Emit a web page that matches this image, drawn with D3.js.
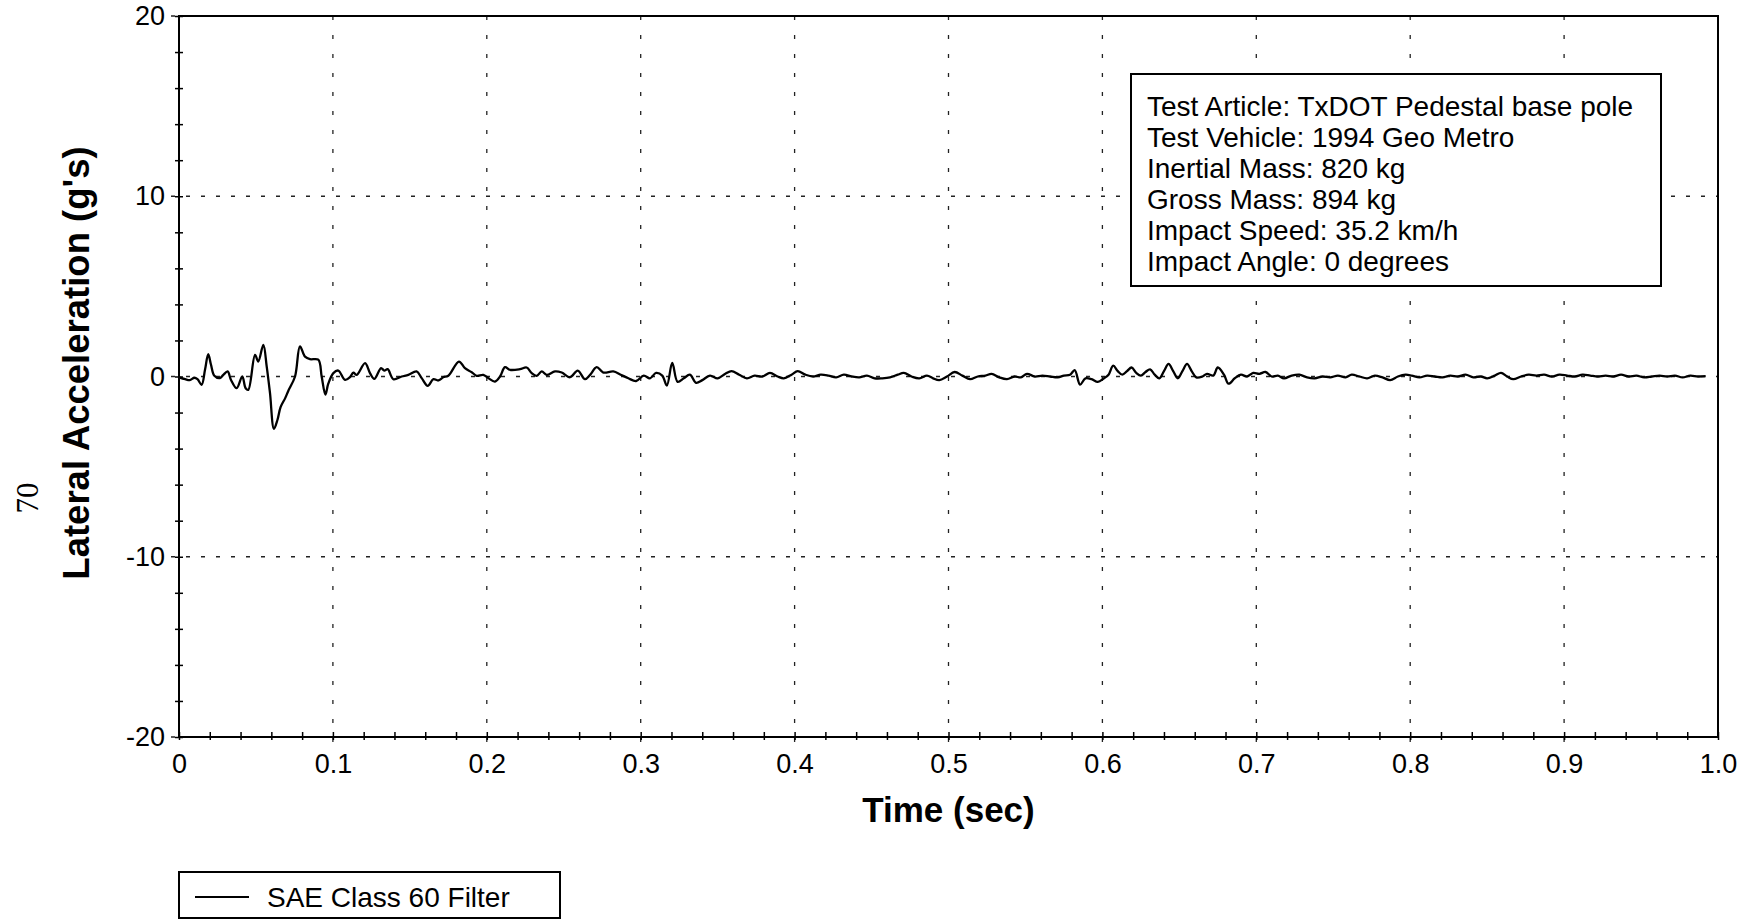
<!DOCTYPE html>
<html>
<head>
<meta charset="utf-8">
<script src="https://cdn.jsdelivr.net/npm/d3@7"></script>
<style>
  body { margin: 0; background: #fff; }
  text { font-family: "Liberation Sans", Arial, sans-serif; }
</style>
</head>
<body>
<div class="chart"></div>
<script>
// time (sec) and lateral acceleration (g's)
var tiempo = [0, 0.004, 0.007, 0.010, 0.012, 0.0147, 0.0169, 0.019, 0.0208, 0.023, 0.0266, 0.0288, 0.0316, 0.0338, 0.0375, 0.0411, 0.0433, 0.045, 0.0494, 0.0515, 0.0548, 0.057, 0.0591, 0.0617, 0.064, 0.066, 0.069, 0.071, 0.0754, 0.0786, 0.0819, 0.0851, 0.0905, 0.0927, 0.0951, 0.097, 0.1003, 0.1035, 0.1079, 0.1111, 0.1133, 0.1155, 0.1209, 0.1241, 0.1269, 0.1313, 0.1334, 0.1356, 0.1393, 0.1447, 0.149, 0.1544, 0.1577, 0.1616, 0.1653, 0.1685, 0.1717, 0.175, 0.1819, 0.1858, 0.1902, 0.1934, 0.1977, 0.201, 0.2053, 0.2086, 0.2118, 0.2151, 0.2216, 0.2259, 0.2292, 0.2324, 0.2357, 0.2389, 0.2443, 0.2487, 0.2541, 0.2591, 0.2638, 0.2671, 0.2714, 0.2757, 0.2822,
  0.287, 0.292, 0.297, 0.302, 0.306, 0.310, 0.314, 0.317, 0.3205, 0.324, 0.328, 0.332, 0.336, 0.340, 0.345, 0.350, 0.355, 0.359, 0.364, 0.369, 0.374, 0.379, 0.384, 0.389, 0.393, 0.398, 0.402, 0.407, 0.412, 0.417, 0.422, 0.427, 0.432, 0.437, 0.442, 0.447, 0.452, 0.457, 0.462, 0.467, 0.471, 0.476, 0.481, 0.486, 0.490, 0.494, 0.499, 0.504, 0.509, 0.514, 0.519, 0.524, 0.528, 0.533, 0.538, 0.543, 0.547, 0.551, 0.556, 0.561, 0.566, 0.571, 0.575, 0.579, 0.582, 0.5855, 0.589, 0.593, 0.597, 0.601, 0.604, 0.607, 0.610, 0.613, 0.616, 0.619, 0.622, 0.625, 0.628, 0.631, 0.634, 0.637, 0.640, 0.643, 0.646, 0.649, 0.652, 0.655, 0.658, 0.661, 0.665, 0.668, 0.672, 0.675, 0.679, 0.682, 0.686, 0.690, 0.694, 0.698, 0.702, 0.706, 0.710, 0.714, 0.718, 0.723, 0.728, 0.733, 0.738, 0.743, 0.748, 0.753, 0.758, 0.762, 0.767, 0.772, 0.777, 0.782, 0.787, 0.792, 0.797, 0.801, 0.806, 0.811, 0.816, 0.821, 0.826, 0.831, 0.836, 0.841, 0.846, 0.850, 0.855, 0.859, 0.863, 0.867, 0.872, 0.877, 0.882, 0.887, 0.892, 0.897, 0.902, 0.907, 0.912, 0.917, 0.922, 0.927, 0.932, 0.937, 0.942, 0.947, 0.952, 0.957, 0.962, 0.967, 0.972, 0.977, 0.982, 0.987, 0.992];

var aceleracion = [-0.05, -0.15, -0.2, -0.07, -0.15, -0.46, 0.37, 1.24, 0.65, 0.04, -0.09, 0.09, 0.28, -0.19, -0.65, 0.0, -0.65, -0.74, 1.2, 0.83, 1.76, 0.55, -0.9, -2.9, -2.4, -1.7, -1.2, -0.8, 0.0, 1.67, 1.1, 0.96, 0.93, 0.0, -1.0, -0.4, 0.19, 0.33, -0.19, -0.04, 0.22, 0.09, 0.74, 0.19, -0.13, 0.46, 0.33, 0.41, -0.15, 0.0, 0.09, 0.28, -0.09, -0.52, -0.15, -0.22, -0.04, 0.04, 0.83, 0.46, 0.24, 0.04, 0.09, -0.09, -0.28, 0.0, 0.52, 0.37, 0.41, 0.5, 0.19, 0.04, 0.28, 0.09, 0.28, 0.22, -0.04, 0.33, -0.15, 0.09, 0.52, 0.22, 0.28,
  0.1, -0.1, -0.25, 0.05, -0.1, 0.2, 0.05, -0.5, 0.75, -0.3, -0.1, 0.1, -0.35, -0.2, 0.05, -0.1, 0.15, 0.3, 0.1, -0.1, 0.05, 0.0, 0.2, 0.0, -0.1, 0.1, 0.3, 0.1, 0.0, 0.1, 0.05, -0.05, 0.1, 0.0, -0.05, 0.05, -0.1, -0.1, -0.05, 0.1, 0.2, 0.0, -0.1, 0.05, -0.1, -0.2, 0.0, 0.25, 0.05, -0.15, 0.0, 0.05, 0.15, -0.05, -0.15, 0.0, -0.05, 0.15, 0.0, 0.05, 0.0, -0.05, 0.05, 0.1, 0.35, -0.45, -0.1, -0.15, -0.3, -0.1, 0.1, 0.6, 0.3, 0.1, 0.3, 0.5, 0.2, 0.05, 0.25, 0.4, 0.1, -0.1, 0.3, 0.7, 0.3, -0.1, 0.3, 0.7, 0.3, -0.05, 0.0, 0.15, 0.05, 0.5, 0.1, -0.4, -0.1, 0.1, 0.0, 0.2, 0.15, 0.25, 0.0, 0.05, -0.1, 0.05, 0.1, -0.05, -0.1, 0.0, -0.05, 0.05, -0.05, 0.1, 0.0, -0.1, 0.05, -0.05, -0.2, 0.0, 0.1, 0.05, -0.05, 0.05, 0.0, -0.05, 0.05, 0.0, 0.1, -0.05, 0.0, -0.1, 0.05, 0.2, 0.0, -0.15, 0.0, 0.1, 0.05, 0.1, 0.0, 0.1, 0.05, 0.0, 0.1, 0.05, 0.0, 0.05, 0.0, 0.1, 0.0, 0.05, -0.05, 0.0, 0.05, 0.0, 0.05, -0.05, 0.05, 0.0, 0.02];

var ticks_x = [0, 0.1, 0.2, 0.3, 0.4, 0.5, 0.6, 0.7, 0.8, 0.9, 1.0];
var ticks_y = [-20, -10, 0, 10, 20];
var menores_x = d3.range(0, 101, 2).map(function (d) { return d / 100; });
var menores_y = d3.range(-20, 21, 2);

var info_lineas = [
  "Test Article: TxDOT Pedestal base pole",
  "Test Vehicle: 1994 Geo Metro",
  "Inertial Mass: 820 kg",
  "Gross Mass: 894 kg",
  "Impact Speed: 35.2 km/h",
  "Impact Angle: 0 degrees"
];
var leyenda = "SAE Class 60 Filter";

var datos = tiempo.map(function (t, i) { return { t: t, g: aceleracion[i] }; });

// dimensions
var margin = { top: 16, right: 32, bottom: 182, left: 179 },
  ancho = 1750, altura = 919,
  width = ancho - margin.left - margin.right,
  height = altura - margin.top - margin.bottom;

var svg = d3.select(".chart").append("svg")
  .attr("width", ancho)
  .attr("height", altura);

var g = svg.append("g")
  .attr("transform", "translate(" + margin.left + "," + margin.top + ")");

var x = d3.scaleLinear().domain([0, 1]).range([0, width]);
var y = d3.scaleLinear().domain([-20, 20]).range([height, 0]);

// dashed grid (extends a little past the axes like tick marks)
g.append("g")
  .selectAll("line")
  .data(ticks_x.slice(1, -1))
  .enter().append("line")
  .attr("x1", function (d) { return x(d); })
  .attr("x2", function (d) { return x(d); })
  .attr("y1", 0)
  .attr("y2", height + 8)
  .attr("stroke", "#222")
  .attr("stroke-width", 1.3)
  .style("stroke-dasharray", "4,15");

g.append("g")
  .selectAll("line")
  .data(ticks_y)
  .enter().append("line")
  .attr("x1", -8)
  .attr("x2", width)
  .attr("y1", function (d) { return y(d); })
  .attr("y2", function (d) { return y(d); })
  .attr("stroke", "#222")
  .attr("stroke-width", 1.3)
  .style("stroke-dasharray", "4,11");

// minor ticks crossing the axes
var ejeX = g.append("g")
  .attr("transform", "translate(0," + height + ")")
  .call(d3.axisBottom(x).tickValues(menores_x).tickSize(-5).tickFormat(""));
ejeX.select(".domain").remove();
ejeX.selectAll("line").attr("stroke", "#000").attr("stroke-width", 1.5).attr("y2", -5).attr("y1", 3);

var ejeY = g.append("g")
  .call(d3.axisLeft(y).tickValues(menores_y).tickSize(-4).tickFormat(""));
ejeY.select(".domain").remove();
ejeY.selectAll("line").attr("stroke", "#000").attr("stroke-width", 1.5).attr("x1", -4);

// tick labels
var etqX = g.append("g")
  .attr("transform", "translate(0," + height + ")")
  .call(d3.axisBottom(x).tickValues(ticks_x).tickSize(0).tickPadding(17)
    .tickFormat(function (d) { return d === 0 ? "0" : d3.format(".1f")(d); }));
etqX.select(".domain").remove();
etqX.selectAll("text").style("font-size", "27px").attr("fill", "#000")
  .style("font-family", "Liberation Sans, Arial, sans-serif");

var etqY = g.append("g")
  .call(d3.axisLeft(y).tickValues(ticks_y).tickSize(0).tickPadding(14)
    .tickFormat(function (d) { return String(d); }));
etqY.select(".domain").remove();
etqY.selectAll("text").style("font-size", "27px").attr("fill", "#000")
  .style("font-family", "Liberation Sans, Arial, sans-serif");

// frame
g.append("rect")
  .attr("x", 0).attr("y", 0)
  .attr("width", width).attr("height", height)
  .attr("fill", "none")
  .attr("stroke", "#000")
  .attr("stroke-width", 2);

// signal
var linea = d3.line()
  .x(function (d) { return x(d.t); })
  .y(function (d) { return y(d.g); })
  .curve(d3.curveCatmullRom.alpha(0.5));

g.append("path")
  .datum(datos)
  .attr("d", linea)
  .attr("fill", "none")
  .attr("stroke", "#000")
  .attr("stroke-width", 2.3);

// info box
var info = g.append("g").attr("transform", "translate(" + (1131 - margin.left) + "," + (74 - margin.top) + ")");
info.append("rect")
  .attr("width", 530).attr("height", 212)
  .attr("fill", "#fff").attr("stroke", "#000").attr("stroke-width", 2);
info.selectAll("text")
  .data(info_lineas)
  .enter().append("text")
  .attr("x", 16)
  .attr("y", function (d, i) { return 42 + i * 31; })
  .style("font-size", "28px")
  .text(function (d) { return d; });

// axis titles
svg.append("text")
  .attr("x", margin.left + width / 2)
  .attr("y", 822)
  .attr("text-anchor", "middle")
  .style("font-size", "35px")
  .style("font-weight", "bold")
  .text("Time (sec)");

svg.append("text")
  .attr("transform", "translate(89,363) rotate(-90)")
  .attr("text-anchor", "middle")
  .style("font-size", "36.5px")
  .style("font-weight", "bold")
  .text("Lateral Acceleration (g's)");

svg.append("text")
  .attr("transform", "translate(38,498) rotate(-90)")
  .attr("text-anchor", "middle")
  .style("font-family", "Liberation Serif, Times New Roman, serif")
  .style("font-size", "31px")
  .text("70");

// legend
var leg = svg.append("g").attr("transform", "translate(179,872)");
leg.append("rect")
  .attr("width", 381).attr("height", 46)
  .attr("fill", "#fff").attr("stroke", "#000").attr("stroke-width", 2);
leg.append("line")
  .attr("x1", 16).attr("x2", 70)
  .attr("y1", 25).attr("y2", 25)
  .attr("stroke", "#000").attr("stroke-width", 2.2);
leg.append("text")
  .attr("x", 88).attr("y", 35)
  .style("font-size", "28px")
  .text(leyenda);
</script>
</body>
</html>
